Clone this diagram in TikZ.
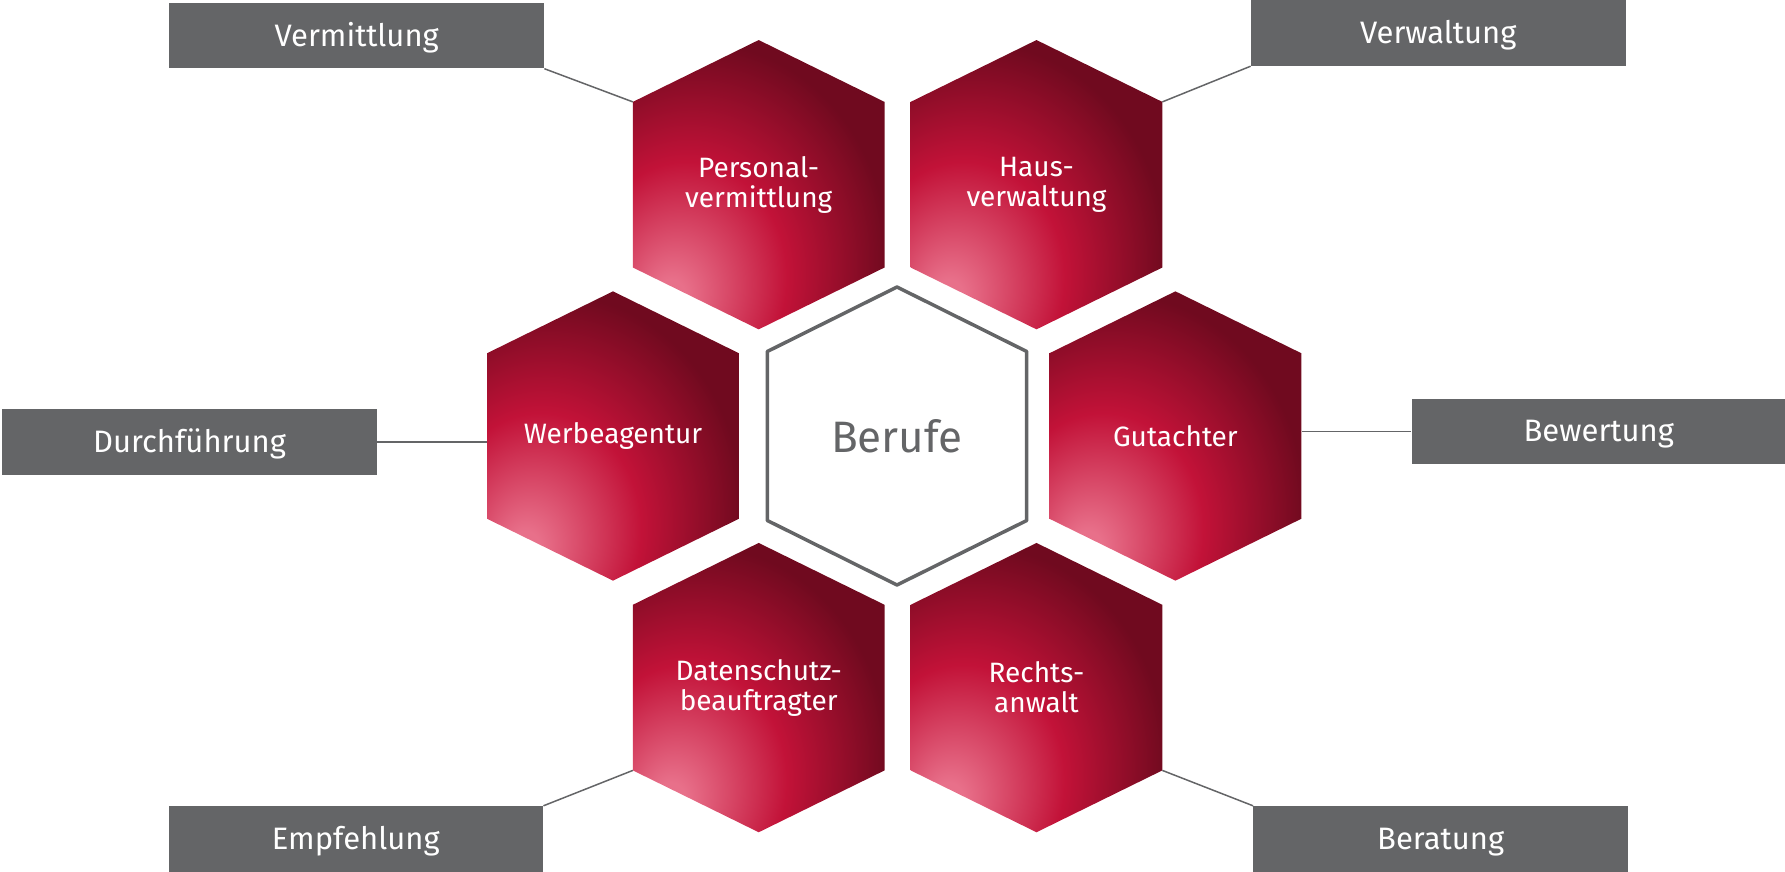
\documentclass[tikz,border=0pt]{standalone}
\usepackage{fontspec}
\setmainfont{Fira Sans}
\usepackage{tikz}
\usetikzlibrary{positioning}
\definecolor{boxgray}{RGB}{100,101,103}
\definecolor{hexlight}{RGB}{232,112,138}
\definecolor{hexmid}{RGB}{194,18,56}
\definecolor{hexdark}{RGB}{112,10,31}
\pgfdeclareradialshading{hexred}{\pgfpoint{-18bp}{-20bp}}{color(0bp)=(hexlight);
  color(3bp)=(hexlight); color(20bp)=(hexmid); color(37bp)=(hexdark); color(100bp)=(hexdark)}
\tikzset{
  hexlabel/.style={text=white,align=center,inner sep=0pt,minimum width=125.85pt,
    minimum height=144.65pt,font=\fontsize{14}{15}\selectfont},
  tagbox/.style={fill=boxgray,text=white,inner sep=0pt,minimum width=187.25pt,
    minimum height=32.8pt,text height=10.6pt,text depth=0pt,font=\fontsize{15.5}{16}\selectfont},
  linkline/.style={draw=boxgray,line width=0.75pt}
}
\newcommand{\drawhex}[4]{
\shade[shading=hexred] (#2,#3) ++(0,-144.65) -- ++(125.85,61.85)
  -- ++(0,165.6) -- ++(-125.85,61.85) -- ++(-125.85,-61.85) -- ++(0,-165.6) -- cycle;
\node[hexlabel] (#1) at (#2,#3) {#4};
\path (#2,#3) ++(-125.85,-82.8) coordinate (#1-ul) ++(251.7,0) coordinate (#1-ur)
  ++(0,165.6) coordinate (#1-lr) ++(-251.7,0) coordinate (#1-ll);}

\begin{document}
\begin{tikzpicture}[x=0.5pt,y=-0.5pt]
\useasboundingbox (0,0) rectangle (1785,872);
\drawhex{personal}{758.7}{184.7}{Personal-\\vermittlung}
\drawhex{haus}{1036.5}{184.7}{Haus-\\verwaltung}
\drawhex{werbe}{613}{436}{Werbeagentur}
\drawhex{gutachter}{1175.4}{436}{Gutachter}
\drawhex{daten}{758.7}{687.6}{Datenschutz-\\beauftragter}
\drawhex{recht}{1036.5}{687.6}{Rechts-\\anwalt}
% center
\draw[boxgray,line width=1.75pt,line join=round] (897,436) ++(0,-149) -- ++(129.7,64.5)
  -- ++(0,169) -- ++(-129.7,64.5) -- ++(-129.7,-64.5) -- ++(0,-169) -- cycle;
\node[text=boxgray,font=\fontsize{22}{24}\selectfont] (berufe) at (897,436) {Berufe};
% tags
\node[tagbox] (vermittlung) at (356.7,35.5) {Vermittlung};
\node[tagbox] (verwaltung) at (1438.3,33) {Verwaltung};
\node[tagbox] (durch) at (189.5,442) {Durchführung};
\node[tagbox] (bewertung) at (1598.8,431.3) {Bewertung};
\node[tagbox] (empfehlung) at (355.8,839) {Empfehlung};
\node[tagbox] (beratung) at (1440.7,839) {Beratung};
\draw[linkline] (vermittlung.south east) -- (personal-ul);
\draw[linkline] (verwaltung.south west) -- (haus-ur);
\draw[linkline] (durch.east) -- (durch.east -| werbe.west);
\draw[linkline] (bewertung.west) -- (bewertung.west -| gutachter.east);
\draw[linkline] (empfehlung.north east) -- (daten-ll);
\draw[linkline] (beratung.north west) -- (recht-lr);
\end{tikzpicture}
\end{document}
